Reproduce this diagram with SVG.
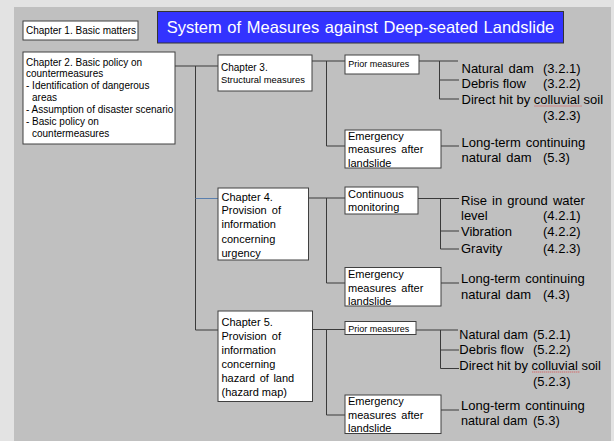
<svg xmlns="http://www.w3.org/2000/svg" width="614" height="441" viewBox="0 0 614 441">
<style>
text{font-family:"Liberation Sans",Arial,sans-serif;fill:#000}
.box{fill:#fff;stroke:#404040;stroke-width:1}
.ln{fill:none;stroke:#3a3a3a;stroke-width:1}
.s10{font-size:10px}
.s9{font-size:9px}
.s11{font-size:11px}
.s13{font-size:13px}
.wav{fill:none;stroke:#e03030;stroke-width:0.8;stroke-dasharray:1 1}
</style>
<rect x="0" y="0" width="614" height="441" fill="#e3e3e3"/>
<rect x="14" y="7" width="597" height="434" fill="#c0c0c0"/>

<g id="title">
<rect x="157.5" y="11.5" width="406" height="31.5" fill="#3333ff" stroke="#333" stroke-width="1"/>
<text x="360.5" y="33" font-size="16.5" text-anchor="middle" style="fill:#fff" word-spacing="1">System of Measures against Deep-seated Landslide</text>
</g>

<g id="connectors">
<path class="ln" d="M175 66H218M195.5 66V330H218"/>
<path d="M195.5 198.5H218" fill="none" stroke="#5a7fae" stroke-width="1"/>
<path class="ln" d="M312 61H345M326.5 61V146H345M419 61H458M439.5 61V99H459M439.5 80H459M441 146H459"/>
<path class="ln" d="M308.5 198H345M326.5 198V283H345M418 198.5H459M440.5 198.5V249H459M440.5 231H459M441 283H459"/>
<path class="ln" d="M312.5 329.5H345M326.5 329.5V415H345M416 330H458M440.5 330V368.5H459M440.5 350H459M441 410H459"/>
</g>

<g id="ch1">
<rect class="box" x="23" y="21" width="115" height="19"/>
<text class="s10" x="26" y="34">Chapter 1. Basic matters</text>
</g>

<g id="ch2">
<rect class="box" x="23" y="52" width="152" height="92"/>
<text class="s10" x="26" y="65.7">Chapter 2. Basic policy on</text>
<text class="s10" x="26" y="76.5">countermeasures</text>
<text class="s10" x="26" y="89">- Identification of dangerous</text>
<text class="s10" x="32" y="100.7">areas</text>
<text class="s10" x="26" y="113">- Assumption of disaster scenario</text>
<text class="s10" x="26" y="125">- Basic policy on</text>
<text class="s10" x="32" y="136.7">countermeasures</text>
</g>

<g id="ch3">
<rect class="box" x="218" y="55" width="94" height="36"/>
<text class="s10" x="221" y="70.5">Chapter 3.</text>
<text x="221" y="82.5" style="font-size:9.4px">Structural measures</text>
</g>

<g id="ch4">
<rect class="box" x="218" y="188" width="90.5" height="72"/>
<text class="s11" x="221.5" y="200.7">Chapter 4.</text>
<text class="s11" x="221.5" y="214.3" word-spacing="2">Provision of</text>
<text class="s11" x="221.5" y="228.3">information</text>
<text class="s11" x="221.5" y="242.5">concerning</text>
<text class="s11" x="221.5" y="256.5">urgency</text>
</g>

<g id="ch5">
<rect class="box" x="218" y="311" width="94.5" height="90.5"/>
<text class="s11" x="221.5" y="326">Chapter 5.</text>
<text class="s11" x="221.5" y="339.5" word-spacing="2">Provision of</text>
<text class="s11" x="221.5" y="353.5">information</text>
<text class="s11" x="221.5" y="367.5">concerning</text>
<text class="s11" x="221.5" y="381.5" word-spacing="1.5">hazard of land</text>
<text class="s11" x="221.5" y="395.5">(hazard map)</text>
</g>

<g id="prior1">
<rect class="box" x="345" y="55" width="74" height="19"/>
<text class="s9" x="348.3" y="67.3">Prior measures</text>
</g>

<g id="emerg1">
<rect class="box" x="345" y="130" width="96" height="38"/>
<text class="s11" x="348" y="140">Emergency</text>
<text class="s11" x="348" y="153.3" word-spacing="2">measures after</text>
<text class="s11" x="348" y="166.5">landslide</text>
</g>

<g id="monitor">
<rect class="box" x="345" y="187" width="73" height="27"/>
<text class="s11" x="348" y="197.5">Continuous</text>
<text class="s11" x="348" y="211">monitoring</text>
</g>

<g id="emerg2">
<rect class="box" x="345" y="267.5" width="96" height="38.5"/>
<text class="s11" x="348" y="278.3">Emergency</text>
<text class="s11" x="348" y="291.7" word-spacing="2">measures after</text>
<text class="s11" x="348" y="305">landslide</text>
</g>

<g id="prior2">
<rect class="box" x="345" y="321.5" width="71" height="13"/>
<text class="s9" x="348.3" y="331.7">Prior measures</text>
</g>

<g id="emerg3">
<rect class="box" x="345" y="395" width="96" height="38.5"/>
<text class="s11" x="348" y="405">Emergency</text>
<text class="s11" x="348" y="418.7" word-spacing="2">measures after</text>
<text class="s11" x="348" y="431.7">landslide</text>
</g>

<g id="items3">
<text class="s13" x="461.5" y="73" word-spacing="1.5">Natural dam</text>
<text class="s13" x="543" y="73">(3.2.1)</text>
<text class="s13" x="461.5" y="88.3">Debris flow</text>
<text class="s13" x="543" y="88.3">(3.2.2)</text>
<text class="s13" x="461.5" y="104.3">Direct hit by colluvial soil</text>
<path class="wav" d="M534.5 106H582"/>
<text class="s13" x="543" y="119.5">(3.2.3)</text>
<text class="s13" x="461.5" y="146.7" word-spacing="1.5">Long-term continuing</text>
<text class="s13" x="461.5" y="162" word-spacing="1.5">natural dam</text>
<text class="s13" x="543" y="162">(5.3)</text>
</g>

<g id="items4">
<text class="s13" x="461" y="205" word-spacing="1.5">Rise in ground water</text>
<text class="s13" x="461" y="220">level</text>
<text class="s13" x="543" y="220">(4.2.1)</text>
<text class="s13" x="461" y="236">Vibration</text>
<text class="s13" x="543" y="236">(4.2.2)</text>
<text class="s13" x="461" y="252.5">Gravity</text>
<text class="s13" x="543" y="252.5">(4.2.3)</text>
<text class="s13" x="461" y="283.3" word-spacing="1.5">Long-term continuing</text>
<text class="s13" x="461" y="299.3" word-spacing="1.5">natural dam</text>
<text class="s13" x="543" y="299.3">(4.3)</text>
</g>

<g id="items5">
<text class="s13" x="459.3" y="339" style="font-size:12.6px">Natural dam</text>
<text class="s13" x="533" y="339">(5.2.1)</text>
<text class="s13" x="459.3" y="354.3">Debris flow</text>
<text class="s13" x="533" y="354.3">(5.2.2)</text>
<text class="s13" x="459.3" y="370">Direct hit by colluvial soil</text>
<path class="wav" d="M532.3 372H579.5"/>
<text class="s13" x="533" y="385.5">(5.2.3)</text>
<text class="s13" x="461" y="410" word-spacing="1.5">Long-term continuing</text>
<text class="s13" x="461" y="425" style="font-size:12.6px">natural dam</text>
<text class="s13" x="533" y="425">(5.3)</text>
</g>
</svg>
